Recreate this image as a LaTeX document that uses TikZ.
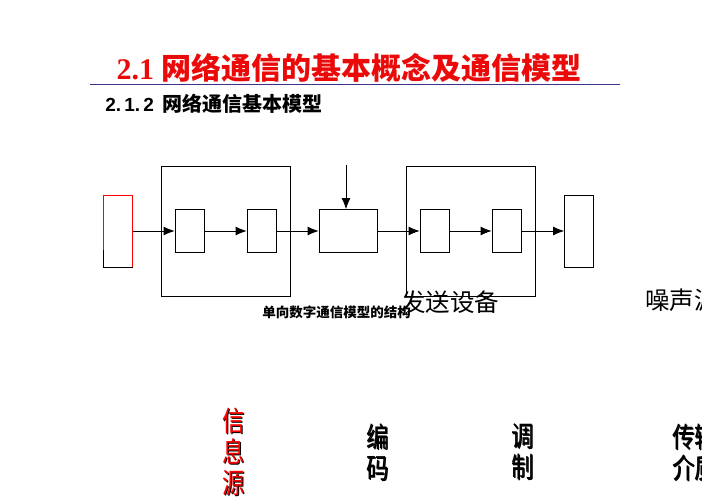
\documentclass[tikz,border=0pt]{standalone}
\usepackage{fontspec}
\setmainfont{Liberation Serif}
\setsansfont{Liberation Sans}
\newfontfamily\cjk{Noto Sans CJK SC}
\usetikzlibrary{arrows.meta}

\definecolor{titlered}{RGB}{235,10,10}
\definecolor{rulenavy}{RGB}{60,50,140}

\begin{document}
\begin{tikzpicture}[
        x=1pt, y=-1pt,
        line width=0.8pt,
        box/.style={draw, inner sep=0pt, minimum width=29pt, minimum height=43pt},
        tallbox/.style={draw, inner sep=0pt, minimum width=29pt, minimum height=72pt},
        group/.style={draw, thin, inner sep=0pt, minimum width=129pt, minimum height=130pt},
        vtext/.style={font=\cjk\fontsize{28}{31}\selectfont, xscale=0.8, align=center, inner sep=0pt, anchor=north},
        flow/.style={-{Latex[length=11pt,width=9pt]}}
    ]
        \useasboundingbox (0,0) rectangle (702,496);
        \clip (0,0) rectangle (702,496);

        % heading
        \node (title) at (349,68) {\color{titlered}\fontsize{30}{32}\selectfont\textbf{2.1} \cjk\bfseries 网络通信的基本概念及通信模型};
        \draw [rulenavy, line width=0.7pt] (90,84) -- (620,84);
        \node [anchor=west, inner sep=0pt] (sub) at (105,104) {\sffamily\bfseries\fontsize{19}{21}\selectfont 2.\,1.\,2\, \cjk\bfseries\fontsize{20}{22}\selectfont 网络通信基本模型};

        % blocks
        \node [group] (send) at (225.5,231) {};
        \node [group] (recv) at (471,231) {};
        \node [tallbox, draw=red] (src) at (118,231) {};
        \draw (103,250) |- (133,267);
        \node [box] (enc1) at (189.5,231) {};
        \node [box] (enc2) at (261.5,231) {};
        \node [box, minimum width=58pt] (chan) at (348,231) {};
        \node [box] (mod1) at (434.5,231) {};
        \node [box] (mod2) at (506.5,231) {};
        \node [tallbox] (med) at (579,231) {};
        \coordinate (noise) at (346,165);

        \draw [flow] (src) -- (enc1);
        \draw [flow] (enc1) -- (enc2);
        \draw [flow] (enc2) -- (chan);
        \draw [flow] (chan) -- (mod1);
        \draw [flow] (mod1) -- (mod2);
        \draw [flow] (mod2) -- (med);
        \draw [flow] (noise) -- (noise |- chan.north);

        % labels
        \node [anchor=west, inner sep=0pt] (cap) at (262,312) {\cjk\bfseries\fontsize{13.5}{15}\selectfont 单向数字通信模型的结构};
        \node [anchor=west, inner sep=0pt] (sendlbl) at (401,302) {\cjk\fontsize{24.5}{26}\selectfont 发送设备};
        \node [anchor=west, inner sep=0pt] (noiselbl) at (645,300) {\cjk\fontsize{24.5}{26}\selectfont 噪声源};

        % vertical labels, each with a shadow copy
        \node [vtext, text=black] at (235,409) {信\\息\\源};
        \node [vtext, text=red] (srclbl) at (234,408) {信\\息\\源};
        \node [vtext] at (379,424) {编\\码};
        \node [vtext] (enclbl) at (378,423) {编\\码};
        \node [vtext] at (524,424) {调\\制};
        \node [vtext] (modlbl) at (523,423) {调\\制};
        \node [vtext, anchor=north west] at (673,424) {传输\\介质};
        \node [vtext, anchor=north west] (medlbl) at (672,423) {传输\\介质};
    \end{tikzpicture}
\end{document}
